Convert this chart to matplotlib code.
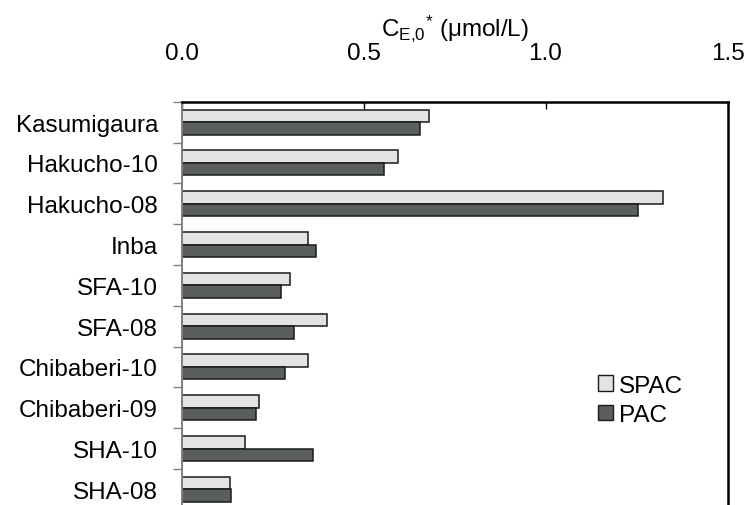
"""
Horizontal bar chart of C_E,0* for SPAC and PAC at each sampling site.
"""
import numpy as np
import matplotlib
matplotlib.use("Agg")
import matplotlib.pyplot as plt
from matplotlib.patches import Patch

sites = ["Kasumigaura", "Hakucho-10", "Hakucho-08", "Inba", "SFA-10",
         "SFA-08", "Chibaberi-10", "Chibaberi-09", "SHA-10", "SHA-08"]
spac = [0.680, 0.595, 1.322, 0.348, 0.297, 0.400, 0.348, 0.212, 0.175, 0.132]
pac = [0.655, 0.557, 1.254, 0.370, 0.272, 0.310, 0.285, 0.205, 0.362, 0.136]
x_ticks = [0.0, 0.5, 1.0, 1.5]

plt.rcParams["font.family"] = ["Liberation Sans", "DejaVu Sans"]
plt.rcParams["mathtext.fontset"] = "custom"
plt.rcParams["mathtext.rm"] = "Liberation Sans"
plt.rcParams["mathtext.it"] = "Liberation Sans:italic"
plt.rcParams["mathtext.bf"] = "Liberation Sans:bold"

FS = 17.5


def main():
    fig = plt.figure(figsize=(7.47, 5.06), dpi=100)
    ax = fig.add_axes([0.2432, -0.0093, 0.7307, 0.8063])

    y = np.arange(len(sites))
    h = 0.306
    ax.barh(y - h / 2, spac, height=h, color="#e3e3e3", edgecolor="#1a1a1a",
            linewidth=1.1, label="SPAC")
    ax.barh(y + h / 2, pac, height=h, color="#5a5e5e", edgecolor="#1a1a1a",
            linewidth=1.1, label="PAC")

    ax.set_xlim(0, 1.5)
    ax.set_ylim(len(sites) - 0.5, -0.5)

    # x axis on top
    ax.xaxis.tick_top()
    ax.xaxis.set_label_position("top")
    ax.set_xticks(x_ticks)
    ax.set_xticklabels([f"{v:.1f}" for v in x_ticks])
    ax.tick_params(axis="x", direction="in", length=5, width=1, color="black",
                   labelsize=FS, pad=27)
    ax.set_xlabel(r"C$_{\mathrm{E{,}0}}$$^{*}$ (μmol/L)", fontsize=FS,
                  labelpad=5)

    # category boundaries as major ticks, labels on minor ticks
    ax.set_yticks(np.arange(len(sites) + 1) - 0.5)
    ax.set_yticklabels([])
    ax.set_yticks(y, minor=True)
    ax.set_yticklabels(sites, minor=True)
    ax.tick_params(axis="y", which="major", direction="out", length=6.5,
                   width=1, color="#808080")
    ax.tick_params(axis="y", which="minor", length=0, labelsize=FS, pad=17)

    ax.spines["top"].set_linewidth(1.8)
    ax.spines["right"].set_linewidth(1.8)
    ax.spines["top"].set_color("black")
    ax.spines["right"].set_color("black")
    ax.spines["left"].set_linewidth(1.4)
    ax.spines["left"].set_color("#808080")
    ax.spines["bottom"].set_visible(False)

    handles = [Patch(facecolor="#e3e3e3", edgecolor="#1a1a1a", linewidth=1.0),
               Patch(facecolor="#5a5e5e", edgecolor="#1a1a1a", linewidth=1.0)]
    ax.legend(handles, ["SPAC", "PAC"], loc="upper left",
              bbox_to_anchor=(0.745, 0.355), frameon=False, fontsize=FS,
              handlelength=0.6, handleheight=0.6, handletextpad=0.25,
              labelspacing=0.3, borderaxespad=0)

    fig.savefig("out.png", dpi=100)


if __name__ == "__main__":
    main()
